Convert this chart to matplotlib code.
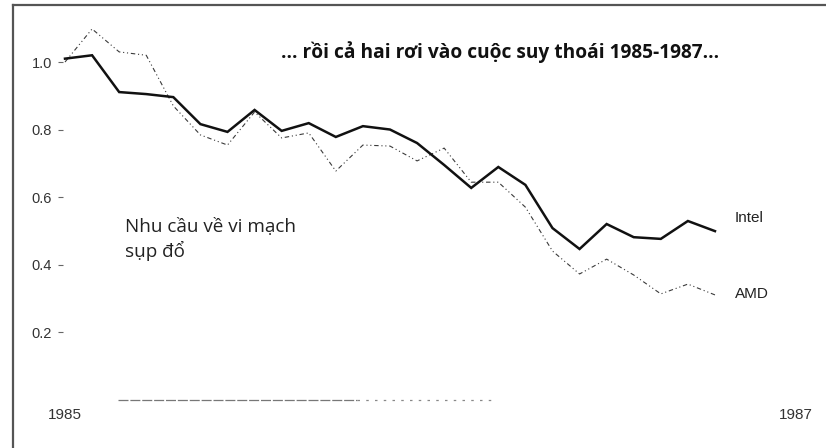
import matplotlib
matplotlib.use("Agg")
import matplotlib.pyplot as plt
from matplotlib.lines import Line2D

# du lieu doc tu hinh (chi so 1985 = 1.0)
quarters = list(range(25))
intel = [1.01, 1.02, 0.911, 0.905, 0.896, 0.816, 0.793, 0.858, 0.796, 0.819,
         0.778, 0.81, 0.80, 0.76, 0.695, 0.627, 0.689, 0.636, 0.508, 0.446,
         0.52, 0.481, 0.476, 0.529, 0.499]
amd = [1.0, 1.098, 1.03, 1.02, 0.87, 0.784, 0.754, 0.852, 0.775, 0.79,
       0.677, 0.754, 0.751, 0.707, 0.745, 0.644, 0.644, 0.57, 0.44, 0.372,
       0.416, 0.369, 0.313, 0.342, 0.31]
year_ticks = [0, 27]
year_labels = ['1985', '1987']
y_ticks = [0.2, 0.4, 0.6, 0.8, 1.0]
y_labels = ['0.2', '0.4', '0.6', '0.8', '1.0']

title = '... rồi cả hai rơi vào cuộc suy thoái 1985-1987...'
note = ['Nhu cầu về vi mạch', 'sụp đổ']

W, H = 826, 448
fig = plt.figure(figsize=(W / 100, H / 100), dpi=100)
fig.set_facecolor('white')

# khung ngoai (chi trai va tren)
fig.add_artist(Line2D([13 / W, 13 / W], [0, 1 - 5 / H], color='#555555', lw=1.6))
fig.add_artist(Line2D([13 / W, 1], [1 - 5 / H, 1 - 5 / H], color='#555555', lw=1.6))

ax = fig.add_axes([63 / W, 1 - 404.6 / H, (W - 63) / W, (404.6 - 11.4) / H])
ax.set_xlim(-0.074, 28.1)
ax.set_ylim(-0.015, 1.15)
for s in ax.spines.values():
    s.set_visible(False)

ax.plot(quarters, amd, color='#3a3a3a', lw=0.8, linestyle=(0, (4, 2.5, 1, 2.5, 1, 2.5)))
ax.plot(quarters, intel, color='#111111', lw=1.8, solid_joinstyle='miter')

# duong day 0 bi dut quang
ax.hlines(0, 1.96, 10.8, color='#777777', lw=0.9, linestyles=[(0, (8, 1.5))])
ax.hlines(0, 10.8, 15.9, color='#888888', lw=0.9, linestyles=[(0, (2, 5))])

ax.set_yticks(y_ticks)
ax.set_yticklabels(y_labels, family='Liberation Sans', fontsize=10.5, color='#333333')
ax.tick_params(axis='y', length=3.6, width=0.8, color='#666666', pad=4.3)
ax.set_xticks(year_ticks)
ax.set_xticklabels(year_labels, family='Liberation Sans', fontsize=11, color='#333333')
ax.tick_params(axis='x', length=0, pad=2.5)

ax.text(24.74, 0.538, 'Intel', family='Liberation Sans', fontsize=11,
        color='#222222', ha='left', va='center')
ax.text(24.74, 0.313, 'AMD', family='Liberation Sans', fontsize=11,
        color='#222222', ha='left', va='center')

fig.text(500 / W, 1 - 58 / H, title, family='Open Sans', weight='bold',
         fontsize=13.8, color='#111111', ha='center', va='baseline')
fig.text(125 / W, 1 - 232 / H, note[0], family='Open Sans', fontsize=13.6,
         color='#222222', ha='left', va='baseline')
fig.text(125 / W, 1 - 257 / H, note[1], family='Open Sans', fontsize=13.6,
         color='#222222', ha='left', va='baseline')

fig.savefig('out.png', dpi=100)
